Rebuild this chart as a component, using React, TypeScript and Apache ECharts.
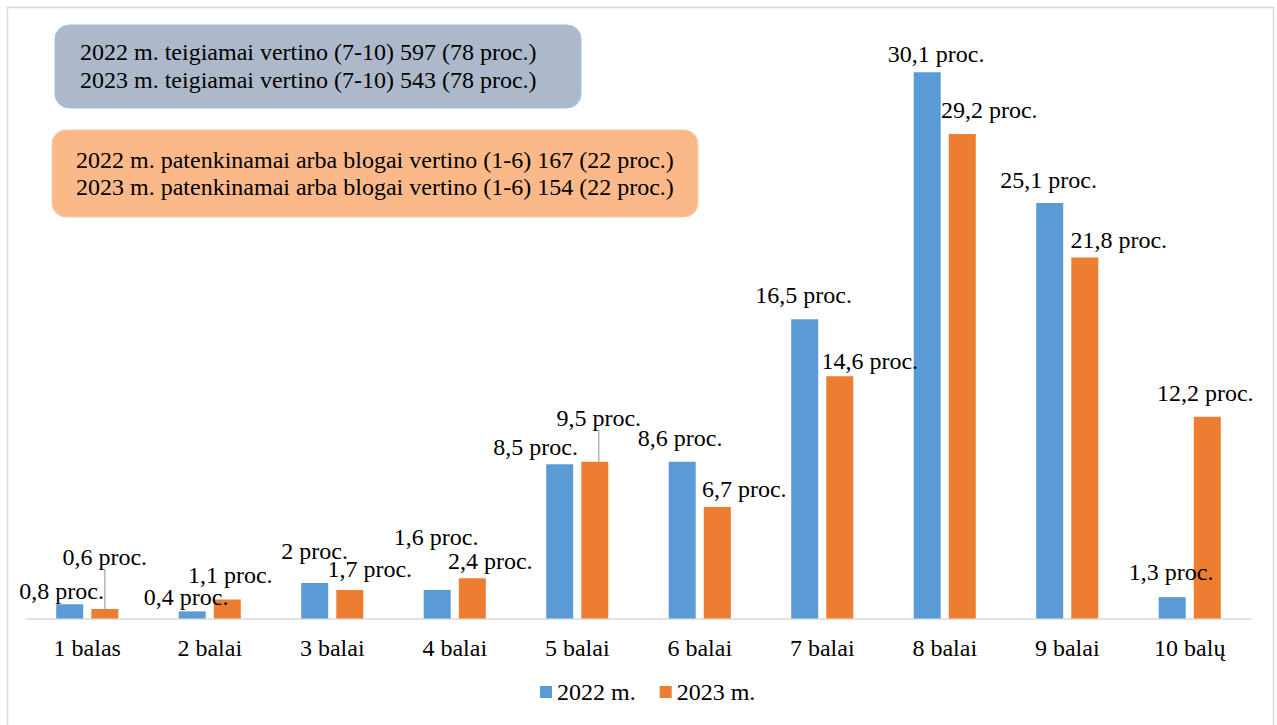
import React, { useEffect, useRef } from "react";
import * as echarts from "echarts";

const categories = ["1 balas", "2 balai", "3 balai", "4 balai", "5 balai", "6 balai", "7 balai", "8 balai", "9 balai", "10 balų"];
const seriesNames = ["2022 m.", "2023 m."];
// bar heights (respondent counts)
const counts2022 = [6, 3, 15, 12, 65, 66, 126, 230, 175, 9];
const counts2023 = [4, 8, 12, 17, 66, 47, 102, 204, 152, 85];
// label percentages
const pct2022 = [0.8, 0.4, 2, 1.6, 8.5, 8.6, 16.5, 30.1, 25.1, 1.3];
const pct2023 = [0.6, 1.1, 1.7, 2.4, 9.5, 6.7, 14.6, 29.2, 21.8, 12.2];
const boxTexts1 = [
  "2022 m. teigiamai vertino (7-10) 597 (78 proc.)",
  "2023 m. teigiamai vertino (7-10) 543 (78 proc.)",
];
const boxTexts2 = [
  "2022 m. patenkinamai arba blogai vertino (1-6) 167 (22 proc.)",
  "2023 m. patenkinamai arba blogai vertino (1-6) 154 (22 proc.)",
];

// label layout offsets (style only)
const offsets2022 = [[-8, 4], [-6, 3], [0, -15], [-1, -36], [-24, 0], [-2, -7], [-1, -7], [9, -1], [-1, -6], [-1, -8]];
const offsets2023 = [[0, -35], [3, -8], [20, -4], [18, 0], [4, -27], [27, -1], [30, 2], [27, -7], [34, -1], [-2, -7]];
const leader2023 = [true, false, false, false, true, false, false, false, false, false];

const FONT = "Liberation Serif, Times New Roman, serif";
const FS = 24;
const fmt = (v: number) => String(v).replace(".", ",") + " proc.";

export default function App() {
  const ref = useRef<HTMLDivElement>(null);
  useEffect(() => {
    document.body.style.margin = "0";
    const chart = echarts.init(ref.current!, null, { renderer: "svg" });
    const option: any = {
      animation: false,
      backgroundColor: "#ffffff",
      textStyle: { fontFamily: FONT },
      grid: { left: 26, right: 26, top: 48.5, bottom: 106.5 },
      xAxis: {
        type: "category",
        data: categories,
        axisLine: { lineStyle: { color: "#D9D9D9", width: 1.5 } },
        axisTick: { show: false },
        axisLabel: { color: "#000", fontSize: FS, fontFamily: FONT, margin: 17 },
      },
      yAxis: { type: "value", min: 0, max: 240, show: false, splitLine: { show: false } },
      legend: {
        data: seriesNames,
        top: 675,
        left: 535,
        icon: "rect",
        itemWidth: 12,
        itemHeight: 12,
        itemGap: 24,
        textStyle: { fontSize: FS, color: "#000", fontFamily: FONT },
      },
      series: [
        {
          name: seriesNames[0],
          type: "bar",
          barWidth: 27,
          barGap: "30%",
          itemStyle: { color: "#5B9BD5" },
          label: {
            show: true,
            position: "top",
            distance: 5,
            color: "#000",
            fontSize: FS,
            fontFamily: FONT,
            formatter: (p: any) => fmt(pct2022[p.dataIndex]),
          },
          labelLayout: (p: any) => {
            const o = offsets2022[p.dataIndex];
            return { dx: o[0], dy: o[1] };
          },
          data: counts2022,
        },
        {
          name: seriesNames[1],
          type: "bar",
          barWidth: 27,
          barGap: "30%",
          itemStyle: { color: "#ED7D31" },
          label: {
            show: true,
            position: "top",
            distance: 5,
            color: "#000",
            fontSize: FS,
            fontFamily: FONT,
            formatter: (p: any) => fmt(pct2023[p.dataIndex]),
          },
          labelLine: { show: false, lineStyle: { color: "#A6A6A6", width: 1 } },
          labelLayout: (p: any) => {
            const o = offsets2023[p.dataIndex];
            return { dx: o[0], dy: o[1] };
          },
          data: counts2023.map((v, i) => ({
            value: v,
            labelLine: { show: leader2023[i], lineStyle: { color: "#A6A6A6", width: 1.2 } },
          })),
        },
      ],
      graphic: [
        {
          type: "rect",
          shape: { x: 7.5, y: 7.5, width: 1266, height: 730 },
          style: { fill: "none", stroke: "#D9D9D9", lineWidth: 1.5 },
          silent: true,
        },
        {
          type: "rect",
          shape: { x: 55, y: 25, width: 526, height: 83, r: 14 },
          style: { fill: "#ADB9CA", stroke: "#9DC3E6", lineWidth: 1 },
        },
        {
          type: "text",
          x: 80,
          top: 38,
          style: {
            text: boxTexts1.join("\n"),
            fontSize: FS,
            fontFamily: FONT,
            fill: "#000",
            lineHeight: 28,
          },
        },
        {
          type: "rect",
          shape: { x: 52, y: 130, width: 646, height: 87, r: 14 },
          style: { fill: "#FBB98A", stroke: "#F8CBAD", lineWidth: 1 },
        },
        {
          type: "text",
          x: 76,
          top: 146,
          style: {
            text: boxTexts2.join("\n"),
            fontSize: FS,
            fontFamily: FONT,
            fill: "#000",
            lineHeight: 27,
          },
        },
      ],
    };
    chart.setOption(option);
    return () => chart.dispose();
  }, []);
  return <div ref={ref} style={{ width: 1277, height: 725 }} />;
}
